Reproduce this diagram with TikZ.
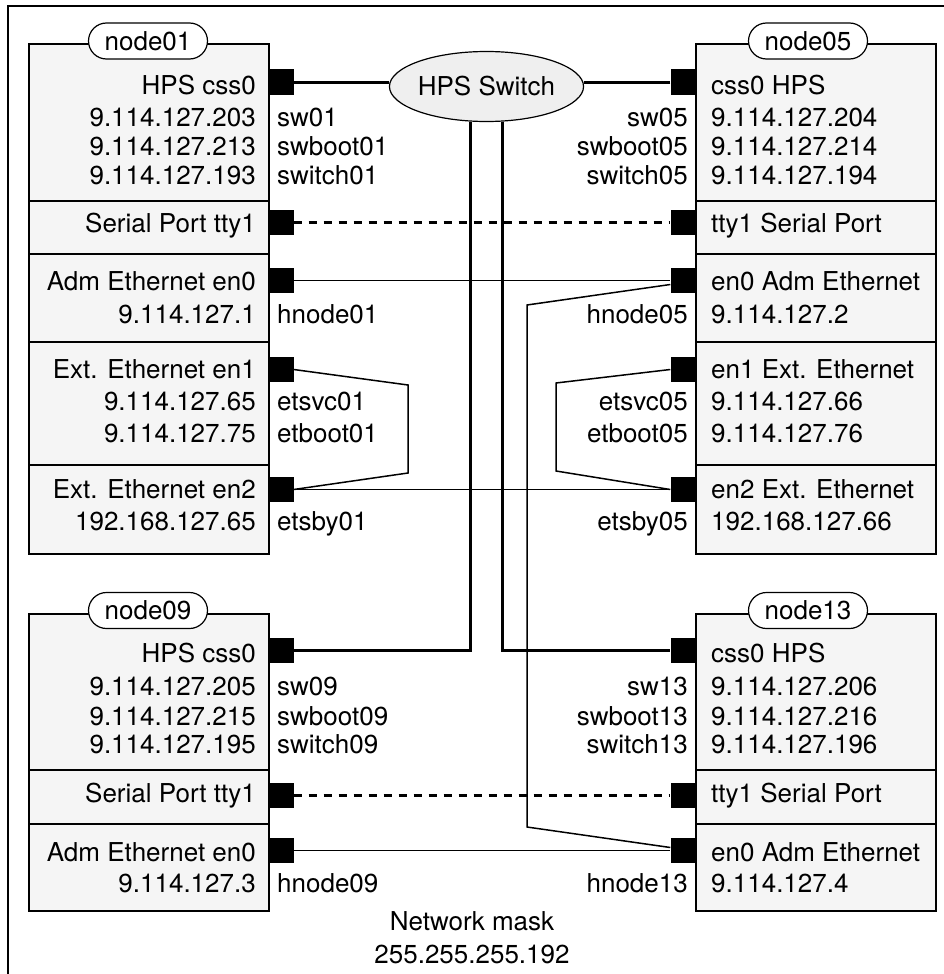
\documentclass[tikz,border=0pt]{standalone}
\usepackage{fontspec}
\setmainfont{TeX Gyre Heros}
\usetikzlibrary{shapes.misc,shapes.geometric}
\definecolor{boxfill}{HTML}{F5F5F5}
\definecolor{switchfill}{HTML}{EFEFEF}
\begin{document}
\begin{tikzpicture}[x=1pt,y=-1pt,
  every node/.style={font=\fontsize{26}{30}\selectfont, inner sep=0pt},
  sect/.style={draw, fill=boxfill, line width=2pt, minimum width=240pt, anchor=north west},
  port/.style={fill=black, minimum size=25pt},
  hostname/.style={draw, fill=white, line width=1.2pt, rounded rectangle, minimum width=119pt, minimum height=36pt},
  lt/.style={anchor=base east},
  rt/.style={anchor=base west},
  trunk/.style={line width=3pt},
  serial/.style={line width=2.5pt, dash pattern=on 8pt off 7pt},
  ether/.style={line width=1.5pt},
  frame/.style={line width=1.5pt}]
\useasboundingbox (0,0) rectangle (944,974);
\draw[frame] (944,6) -- (8,6) -- (8,974);

% ---------- node01 ----------
\node[sect, minimum height=157pt] (n01a) at (28,43) {};
\node[sect, minimum height=53pt]  (n01b) at (28,200) {};
\node[sect, minimum height=88pt]  (n01c) at (28,253) {};
\node[sect, minimum height=123pt] (n01d) at (28,341) {};
\node[sect, minimum height=89pt]  (n01e) at (28,464) {};
\node[hostname] (h01) at (148,41) {node01};
\node[port] (p01css) at (281,82) {};
\node[port] (p01tty) at (281,222.5) {};
\node[port] (p01en0) at (281,280.5) {};
\node[port] (p01en1) at (281,369.5) {};
\node[port] (p01en2) at (281,489.5) {};
\node[lt] (t01a) at (256,94) {HPS css0};
\node[lt] (t01b) at (256,126) {9.114.127.203}; \node[rt] (s01b) at (277,126) {sw01};
\node[lt] (t01c) at (256,155) {9.114.127.213}; \node[rt] (s01c) at (277,155) {swboot01};
\node[lt] (t01d) at (256,184) {9.114.127.193}; \node[rt] (s01d) at (277,184) {switch01};
\node[lt] (t01e) at (256,232) {Serial Port tty1};
\node[lt] (t01f) at (256,290) {Adm Ethernet en0};
\node[lt] (t01g) at (256,323) {9.114.127.1}; \node[rt] (s01g) at (277,323) {hnode01};
\node[lt] (t01h) at (256,378) {Ext. Ethernet en1};
\node[lt] (t01i) at (256,410) {9.114.127.65}; \node[rt] (s01i) at (277,410) {etsvc01};
\node[lt] (t01j) at (256,442) {9.114.127.75}; \node[rt] (s01j) at (277,442) {etboot01};
\node[lt] (t01k) at (256,498) {Ext. Ethernet en2};
\node[lt] (t01l) at (256,530) {192.168.127.65}; \node[rt] (s01l) at (277,530) {etsby01};

% ---------- node05 ----------
\node[sect, minimum height=157pt] (n05a) at (695,43) {};
\node[sect, minimum height=53pt]  (n05b) at (695,200) {};
\node[sect, minimum height=88pt]  (n05c) at (695,253) {};
\node[sect, minimum height=123pt] (n05d) at (695,341) {};
\node[sect, minimum height=89pt]  (n05e) at (695,464) {};
\node[hostname] (h05) at (808,41) {node05};
\node[port] (p05css) at (683,82) {};
\node[port] (p05tty) at (683,222.5) {};
\node[port] (p05en0) at (683,280.5) {};
\node[port] (p05en1) at (683,369.5) {};
\node[port] (p05en2) at (683,489.5) {};
\node[rt] (t05a) at (711,94) {css0 HPS};
\node[rt] (t05b) at (711,126) {9.114.127.204}; \node[lt] (s05b) at (688,126) {sw05};
\node[rt] (t05c) at (711,155) {9.114.127.214}; \node[lt] (s05c) at (688,155) {swboot05};
\node[rt] (t05d) at (711,184) {9.114.127.194}; \node[lt] (s05d) at (688,184) {switch05};
\node[rt] (t05e) at (711,232) {tty1 Serial Port};
\node[rt] (t05f) at (711,290) {en0 Adm Ethernet};
\node[rt] (t05g) at (711,323) {9.114.127.2}; \node[lt] (s05g) at (688,323) {hnode05};
\node[rt] (t05h) at (711,378) {en1 Ext. Ethernet};
\node[rt] (t05i) at (711,410) {9.114.127.66}; \node[lt] (s05i) at (688,410) {etsvc05};
\node[rt] (t05j) at (711,442) {9.114.127.76}; \node[lt] (s05j) at (688,442) {etboot05};
\node[rt] (t05k) at (711,498) {en2 Ext. Ethernet};
\node[rt] (t05l) at (711,530) {192.168.127.66}; \node[lt] (s05l) at (688,530) {etsby05};

% ---------- node09 ----------
\node[sect, minimum height=156pt] (n09a) at (28,613) {};
\node[sect, minimum height=54pt]  (n09b) at (28,769) {};
\node[sect, minimum height=87pt]  (n09c) at (28,823) {};
\node[hostname] (h09) at (148,610.5) {node09};
\node[port] (p09css) at (281,650.5) {};
\node[port] (p09tty) at (281,795.5) {};
\node[port] (p09en0) at (281,850.5) {};
\node[lt] (t09a) at (256,662) {HPS css0};
\node[lt] (t09b) at (256,695) {9.114.127.205}; \node[rt] (s09b) at (277,695) {sw09};
\node[lt] (t09c) at (256,725) {9.114.127.215}; \node[rt] (s09c) at (277,725) {swboot09};
\node[lt] (t09d) at (256,753) {9.114.127.195}; \node[rt] (s09d) at (277,753) {switch09};
\node[lt] (t09e) at (256,802) {Serial Port tty1};
\node[lt] (t09f) at (256,861) {Adm Ethernet en0};
\node[lt] (t09g) at (256,892) {9.114.127.3}; \node[rt] (s09g) at (277,892) {hnode09};

% ---------- node13 ----------
\node[sect, minimum height=156pt] (n13a) at (695,613) {};
\node[sect, minimum height=54pt]  (n13b) at (695,769) {};
\node[sect, minimum height=87pt]  (n13c) at (695,823) {};
\node[hostname] (h13) at (808,610.5) {node13};
\node[port] (p13css) at (683,650.5) {};
\node[port] (p13tty) at (683,795.5) {};
\node[port] (p13en0) at (683,850.5) {};
\node[rt] (t13a) at (711,662) {css0 HPS};
\node[rt] (t13b) at (711,695) {9.114.127.206}; \node[lt] (s13b) at (688,695) {sw13};
\node[rt] (t13c) at (711,725) {9.114.127.216}; \node[lt] (s13c) at (688,725) {swboot13};
\node[rt] (t13d) at (711,753) {9.114.127.196}; \node[lt] (s13d) at (688,753) {switch13};
\node[rt] (t13e) at (711,802) {tty1 Serial Port};
\node[rt] (t13f) at (711,861) {en0 Adm Ethernet};
\node[rt] (t13g) at (711,892) {9.114.127.4}; \node[lt] (s13g) at (688,892) {hnode13};

% ---------- switch ----------
\node[ellipse, draw, fill=switchfill, line width=1.2pt, minimum width=168pt, minimum height=70pt] (hps) at (486.5,86.5) {HPS Switch};

% ---------- footnote ----------
\node[anchor=base] (mask1) at (472,930) {Network mask};
\node[anchor=base] (mask2) at (472,963) {255.255.255.192};

% ---------- HPS switch links ----------
\draw[trunk] (p01css.east) -- (p01css.east -| hps.west);
\draw[trunk] (p05css.west) -- (p05css.west -| hps.east);
\draw[trunk] ([xshift=-16pt]hps.south) |- (p09css.east);
\draw[trunk] ([xshift=16pt]hps.south) |- (p13css.west);

% ---------- serial links ----------
\draw[serial] (p01tty.east) -- (p05tty.west);
\draw[serial] (p09tty.east) -- (p13tty.west);

% ---------- ethernet links ----------
\coordinate (a1) at (408,385);
\coordinate (a2) at (408,473);
\coordinate (b1) at (556,383);
\coordinate (b2) at (556,471);
\coordinate (c1) at (527,305);
\coordinate (c2) at (527,827);
\draw[ether] (p01en0.east) -- (p05en0.west);
\draw[ether] ([yshift=-4pt]p05en0.west) -- (c1) -- (c2) -- ([yshift=3pt]p13en0.west);
\draw[ether] (p09en0.east) -- (p13en0.west);
\draw[ether] (p01en1.east) -- (a1) -- (a2) -- (p01en2.east);
\draw[ether] (p01en2.east) -- (p05en2.west);
\draw[ether] (p05en1.west) -- (b1) -- (b2) -- (p05en2.west);
\end{tikzpicture}
\end{document}
